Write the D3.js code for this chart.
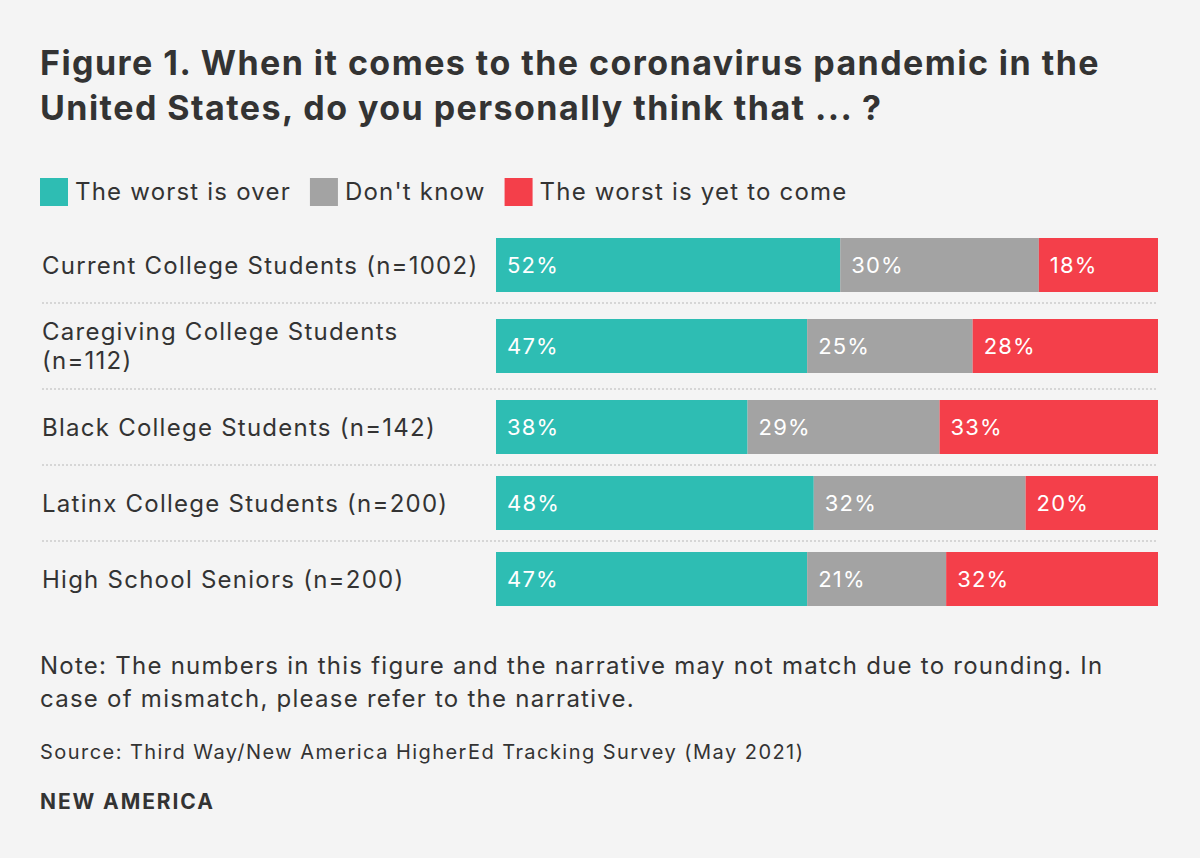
<!DOCTYPE html>
<html lang="en">
<head>
<meta charset="UTF-8">
<title>Figure 1</title>
<style>
  html, body { margin: 0; padding: 0; background: #f4f4f4; }
  svg { display: block; font-family: "Inter", "Noto Sans", sans-serif; }
</style>
</head>
<body>
<script src="https://d3js.org/d3.v7.min.js"></script>
<div id="svg"></div>
<script>
  // data
  const groups = [
    ["Current College Students (n=1002)"],
    ["Caregiving College Students", "(n=112)"],
    ["Black College Students (n=142)"],
    ["Latinx College Students (n=200)"],
    ["High School Seniors (n=200)"]
  ];
  const seriesNames = ["The worst is over", "Don't know", "The worst is yet to come"];
  const worstOver = [52, 47, 38, 48, 47];
  const dontKnow = [30, 25, 29, 32, 21];
  const yetToCome = [18, 28, 33, 20, 32];
  const colors = ["#2ebdb3", "#a3a3a3", "#f43f4a"];

  const width = 1200, height = 858;
  const left = 42;
  const barLeft = 496, barRight = 1158;
  const ink = "#333333";

  const svg = d3.select("#svg").append("svg").attr("width", width).attr("height", height);
  svg.append("rect").attr("width", width).attr("height", height).attr("fill", "#f4f4f4");

  // title
  const title = svg.append("text").attr("fill", ink).style("font-weight", "700")
    .style("font-size", "34px").style("letter-spacing", "1.45px");
  title.append("tspan").attr("x", 40).attr("y", 75).text("Figure 1. When it comes to the coronavirus pandemic in the");
  title.append("tspan").attr("x", 40).attr("y", 120).text("United States, do you personally think that ... ?");

  // legend
  const legend = svg.append("g").attr("transform", "translate(40,178)");
  let lx = 0;
  seriesNames.forEach((name, i) => {
    const g = legend.append("g").attr("transform", `translate(${lx},0)`);
    g.append("rect").attr("width", 28).attr("height", 28).attr("fill", colors[i]);
    const t = g.append("text").attr("x", 35).attr("y", 22).attr("fill", ink)
      .style("font-size", "24px").style("letter-spacing", "1.2px").text(name);
    lx += 35 + t.node().getComputedTextLength() + 19;
  });

  // rows: two-line labels get a taller row
  const rowH = groups.map(g => 76 + (g.length - 1) * 10);
  const rowTop = d3.cumsum([0].concat(rowH));
  const y = d3.scaleLinear().domain([0, d3.sum(rowH)]).range([227, 227 + d3.sum(rowH)]);
  const x = d3.scaleLinear().domain([0, 100]).range([barLeft, barRight]);
  const barH = 54;
  const mid = i => y(rowTop[i] + rowH[i] / 2);

  const stackData = groups.map((g, i) => ({ i: i, a: worstOver[i], b: dontKnow[i], c: yetToCome[i] }));
  const stack = d3.stack().keys(["a", "b", "c"])(stackData);

  // dotted separators
  svg.append("g").selectAll("line").data(d3.range(1, groups.length)).join("line")
    .attr("x1", left).attr("x2", barRight)
    .attr("y1", d => y(rowTop[d])).attr("y2", d => y(rowTop[d]))
    .attr("stroke", "#d6d6d6").attr("stroke-width", 2).attr("stroke-dasharray", "2 2");

  // bars
  const layers = svg.append("g").selectAll("g").data(stack).join("g")
    .attr("fill", (d, i) => colors[i]);
  layers.selectAll("rect").data(d => d).join("rect")
    .attr("x", d => x(d[0]))
    .attr("width", d => x(d[1]) - x(d[0]))
    .attr("y", d => mid(d.data.i) - barH / 2)
    .attr("height", barH);

  // value labels
  layers.selectAll("text").data(d => d).join("text")
    .attr("x", d => x(d[0]) + 11)
    .attr("y", d => mid(d.data.i) + 8)
    .attr("fill", "#ffffff").style("font-size", "22px").style("letter-spacing", "1.2px")
    .text(d => (d[1] - d[0]) + "%");

  // category labels
  const cats = svg.append("g").selectAll("text").data(groups).join("text")
    .attr("fill", ink).style("font-size", "24px").style("letter-spacing", "1.25px")
    .attr("y", (d, i) => mid(i) + 9 - (d.length - 1) * 15);
  cats.selectAll("tspan").data(d => d).join("tspan")
    .attr("x", left).attr("dy", (d, j) => j === 0 ? 0 : 29).text(d => d);

  // footer
  const note = svg.append("text").attr("fill", ink).style("font-size", "24px").style("letter-spacing", "1.25px");
  note.append("tspan").attr("x", 40).attr("y", 674).text("Note: The numbers in this figure and the narrative may not match due to rounding. In");
  note.append("tspan").attr("x", 40).attr("y", 707).text("case of mismatch, please refer to the narrative.");
  svg.append("text").attr("x", 40).attr("y", 759).attr("fill", ink)
    .style("font-size", "20px").style("letter-spacing", "1.45px")
    .text("Source: Third Way/New America HigherEd Tracking Survey (May 2021)");
  svg.append("text").attr("x", 40).attr("y", 809).attr("fill", ink)
    .style("font-size", "21px").style("font-weight", "700").style("letter-spacing", "1.9px")
    .text("NEW AMERICA");
</script>
</body>
</html>
